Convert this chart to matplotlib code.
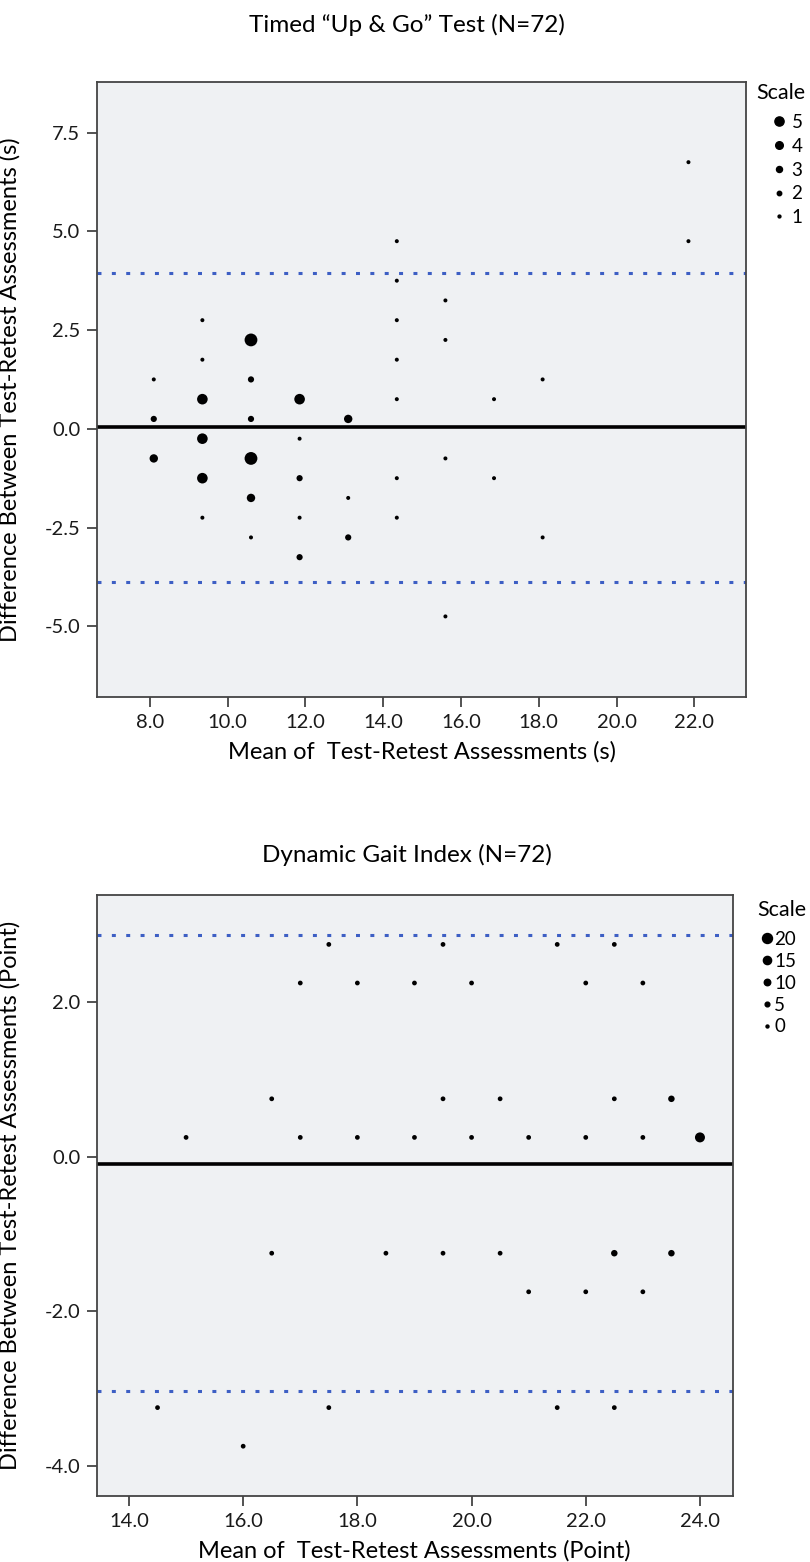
"""Bland-Altman plots for Timed Up & Go and Dynamic Gait Index (test-retest)."""

import matplotlib
matplotlib.use("Agg")
import matplotlib.pyplot as plt
from matplotlib.lines import Line2D

plt.rcParams["font.family"] = ["Lato", "DejaVu Sans"]
plt.rcParams["axes.unicode_minus"] = False

# --- Timed "Up & Go" data: mean, difference, count (point size) ---
tug_mean = [8.1, 8.1, 8.1,
            9.35, 9.35, 9.35, 9.35, 9.35, 9.35,
            10.6, 10.6, 10.6, 10.6, 10.6, 10.6,
            11.85, 11.85, 11.85, 11.85, 11.85,
            13.1, 13.1, 13.1,
            14.35, 14.35, 14.35, 14.35, 14.35, 14.35, 14.35,
            15.6, 15.6, 15.6, 15.6,
            16.85, 16.85,
            18.1, 18.1,
            21.85, 21.85]
tug_diff = [1.25, 0.25, -0.75,
            2.75, 1.75, 0.75, -0.25, -1.25, -2.25,
            2.25, 1.25, 0.25, -0.75, -1.75, -2.75,
            0.75, -0.25, -1.25, -2.25, -3.25,
            0.25, -1.75, -2.75,
            4.75, 3.75, 2.75, 1.75, 0.75, -1.25, -2.25,
            3.25, 2.25, -0.75, -4.75,
            0.75, -1.25,
            1.25, -2.75,
            6.75, 4.75]
tug_count = [1, 2, 3,
             1, 1, 4, 4, 4, 1,
             5, 2, 2, 5, 3, 1,
             4, 1, 2, 1, 2,
             3, 1, 2,
             1, 1, 1, 1, 1, 1, 1,
             1, 1, 1, 1,
             1, 1,
             1, 1,
             1, 1]
tug_bias = 0.04
tug_upper = 3.94
tug_lower = -3.88
tug_scale = [5, 4, 3, 2, 1]
tug_xticks = [8, 10, 12, 14, 16, 18, 20, 22]
tug_yticks = [7.5, 5.0, 2.5, 0.0, -2.5, -5.0]

# --- Dynamic Gait Index data ---
dgi_mean = [17.5, 19.5, 21.5, 22.5,
            17.0, 18.0, 19.0, 20.0, 22.0, 23.0,
            16.5, 19.5, 20.5, 22.5, 23.5,
            15.0, 17.0, 18.0, 19.0, 20.0, 21.0, 22.0, 23.0, 24.0,
            16.5, 18.5, 19.5, 20.5, 22.5, 23.5,
            21.0, 22.0, 23.0,
            14.5, 17.5, 21.5, 22.5,
            16.0]
dgi_diff = [2.75, 2.75, 2.75, 2.75,
            2.25, 2.25, 2.25, 2.25, 2.25, 2.25,
            0.75, 0.75, 0.75, 0.75, 0.75,
            0.25, 0.25, 0.25, 0.25, 0.25, 0.25, 0.25, 0.25, 0.25,
            -1.25, -1.25, -1.25, -1.25, -1.25, -1.25,
            -1.75, -1.75, -1.75,
            -3.25, -3.25, -3.25, -3.25,
            -3.75]
dgi_count = [5, 5, 5, 5,
             5, 5, 5, 5, 5, 5,
             5, 5, 5, 5, 10,
             5, 5, 5, 5, 5, 5, 5, 5, 20,
             5, 5, 5, 5, 10, 10,
             5, 5, 5,
             5, 5, 5, 5,
             5]
dgi_bias = -0.09
dgi_upper = 2.87
dgi_lower = -3.04
dgi_scale = [20, 15, 10, 5, 0]
dgi_xticks = [14, 16, 18, 20, 22, 24]
dgi_yticks = [2.0, 0.0, -2.0, -4.0]

W, H = 810, 1562
PT = 0.72  # px -> pt at dpi 100
BG = "#eff1f3"
BLUE = "#3d5fc4"
SPINE = "#444444"


def tug_size(n):
    return 1.8 + 2.2 * n  # diameter px


def dgi_size(n):
    return 3.0 + 0.35 * n


def make_axes(fig, left, top, right, bottom):
    return fig.add_axes([left / W, 1 - bottom / H, (right - left) / W, (bottom - top) / H])


def style_axes(ax):
    ax.set_facecolor(BG)
    for sp in ax.spines.values():
        sp.set_color(SPINE)
        sp.set_linewidth(1.3)
    ax.tick_params(direction="out", length=7, width=1.3, color=SPINE,
                   labelsize=14.5, pad=5, labelcolor="#1a1a1a")


def draw_panel(ax, mean, diff, count, size_fn, bias, upper, lower):
    sizes = [(size_fn(c) * PT) ** 2 for c in count]
    ax.scatter(mean, diff, s=sizes, c="black", edgecolors="none", zorder=3)
    ax.axhline(bias, color="black", lw=2.6, zorder=2)
    for lim in (upper, lower):
        ax.axhline(lim, color=BLUE, lw=2.2, linestyle=(0, (1.3, 3.4)), zorder=2)


def draw_legend(fig, ax, values, size_fn, title_xy, anchor_xy, handlelength,
                textpad, spacing, scale_fac=1.0):
    fig.text(title_xy[0] / W, 1 - title_xy[1] / H, "Scale", fontsize=15.5,
             ha="left", va="center")
    handles = [Line2D([], [], ls="none", marker="o", color="black",
                      markersize=size_fn(v) * PT * scale_fac) for v in values]
    ax.legend(handles, [str(v) for v in values], loc="upper left",
              bbox_to_anchor=(anchor_xy[0] / W, 1 - anchor_xy[1] / H),
              bbox_transform=fig.transFigure, frameon=False, borderpad=0,
              borderaxespad=0, handlelength=handlelength, handletextpad=textpad,
              labelspacing=spacing, fontsize=13.5)


fig = plt.figure(figsize=(W / 100, H / 100), dpi=100)

# Top panel: Timed Up & Go
ax1 = make_axes(fig, 97, 82, 746, 697)
style_axes(ax1)
draw_panel(ax1, tug_mean, tug_diff, tug_count, tug_size, tug_bias, tug_upper, tug_lower)
ax1.set_xlim(6.64, 23.33)
ax1.set_ylim(-6.79, 8.78)
ax1.set_xticks(tug_xticks)
ax1.set_xticklabels([f"{v:.1f}" for v in tug_xticks])
ax1.set_yticks(tug_yticks)
ax1.set_yticklabels([f"{v:.1f}" for v in tug_yticks])
ax1.set_xlabel("Mean of  Test-Retest Assessments (s)", fontsize=17)
ax1.set_ylabel("Difference Between Test-Retest Assessments (s)", fontsize=17)
ax1.xaxis.set_label_coords(0.5, -0.072)
ax1.yaxis.set_label_coords(-0.118, 0.5)
fig.text(0.503, 1 - 25 / H, "Timed \u201cUp & Go\u201d Test (N=72)", fontsize=17.5,
         ha="center", va="center")
draw_legend(fig, ax1, tug_scale, tug_size, (756, 93), (770, 114), 1.0, 0.15, 0.36,
            scale_fac=0.72)

# Bottom panel: Dynamic Gait Index
ax2 = make_axes(fig, 97, 895, 732.5, 1496)
style_axes(ax2)
draw_panel(ax2, dgi_mean, dgi_diff, dgi_count, dgi_size, dgi_bias, dgi_upper, dgi_lower)
ax2.set_xlim(13.44, 24.57)
ax2.set_ylim(-4.395, 3.39)
ax2.set_xticks(dgi_xticks)
ax2.set_xticklabels([f"{v:.1f}" for v in dgi_xticks])
ax2.set_yticks(dgi_yticks)
ax2.set_yticklabels([f"{v:.1f}" for v in dgi_yticks])
ax2.set_xlabel("Mean of  Test-Retest Assessments (Point)", fontsize=17)
ax2.set_ylabel("Difference Between Test-Retest Assessments (Point)", fontsize=17)
ax2.xaxis.set_label_coords(0.5, -0.074)
ax2.yaxis.set_label_coords(-0.12, 0.5)
fig.text(0.503, 1 - 855 / H, "Dynamic Gait Index (N=72)", fontsize=17.5,
         ha="center", va="center")
draw_legend(fig, ax2, dgi_scale, dgi_size, (757, 910), (761, 931), 0.6, 0.1, 0.26)

fig.savefig("out.png", dpi=100)
plt.close(fig)
